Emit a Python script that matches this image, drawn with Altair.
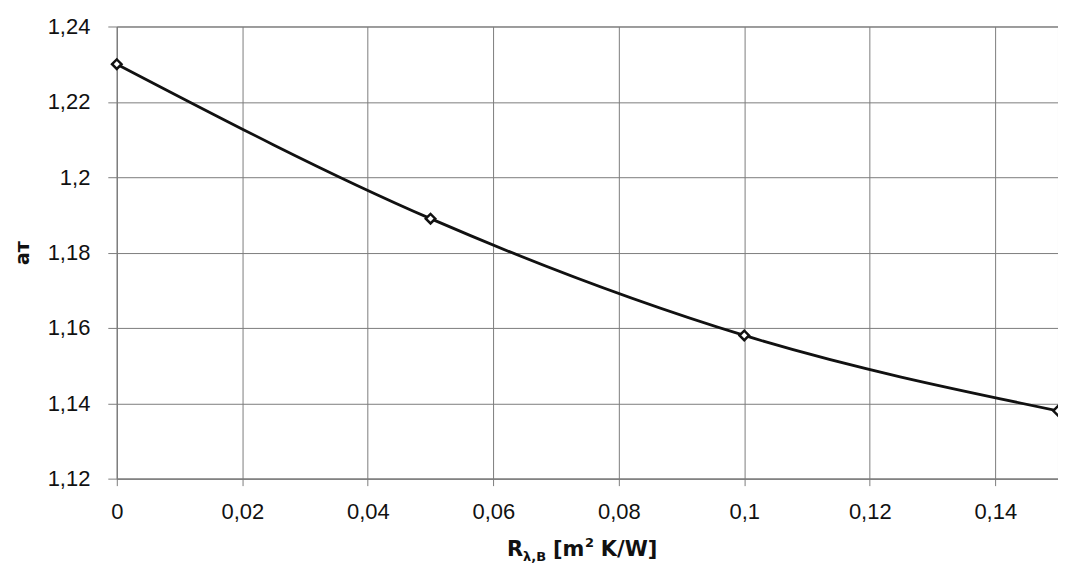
import altair as alt
import pandas as pd

# data
r_vals = [0.0, 0.05, 0.10, 0.15]
a_vals = [1.230, 1.189, 1.158, 1.138]
x_ticks = [0, 0.02, 0.04, 0.06, 0.08, 0.10, 0.12, 0.14]
y_ticks = [1.12, 1.14, 1.16, 1.18, 1.20, 1.22, 1.24]

df = pd.DataFrame({"R": r_vals, "a": a_vals})

FONT = "Liberation Sans"
TFONT = "DejaVu Sans"
GRID = "#7c7c7c"
W, H = 943, 453

x_enc = alt.X(
    "R:Q",
    scale=alt.Scale(domain=[0, 0.15], nice=False, zero=False),
    axis=alt.Axis(
        values=x_ticks, format="~g",
        labelExpr="replace(datum.label, '.', ',')",
        title=None, grid=True, gridColor=GRID, gridWidth=1,
        domainColor=GRID, tickColor=GRID, tickSize=7,
        labelFont=FONT, labelFontSize=22, labelColor="#111",
        labelPadding=16, labelFlush=False,
    ),
)
y_enc = alt.Y(
    "a:Q",
    scale=alt.Scale(domain=[1.12, 1.24], nice=False, zero=False),
    axis=alt.Axis(
        values=y_ticks, format="~g",
        labelExpr="replace(datum.label, '.', ',')",
        title="aт", titleFont=TFONT, titleFontSize=19, titleFontWeight="bold",
        titleColor="#111", titleX=-84,
        grid=True, gridColor=GRID, gridWidth=1,
        domainColor=GRID, tickColor=GRID, tickSize=9,
        labelFont=FONT, labelFontSize=22, labelColor="#111",
        labelPadding=18, labelFlush=False,
    ),
)

base = alt.Chart(df)
line = base.mark_line(color="#111", strokeWidth=2.8, interpolate="monotone").encode(x=x_enc, y=y_enc)
pts = base.mark_point(shape="diamond", filled=True, fill="white", stroke="#111",
                      strokeWidth=2.5, size=90, opacity=1).encode(x="R:Q", y="a:Q")

one = pd.DataFrame({"k": [0]})
def txt(s, x, y, size):
    return alt.Chart(one).mark_text(
        text=s, font=TFONT, fontSize=size, fontWeight="bold", color="#111",
        align="left", baseline="alphabetic",
    ).encode(x=alt.value(x), y=alt.value(y))

ox, oy = 117, 26
title_parts = [
    txt("R", 508 - ox, 557 - oy, 21),
    txt("λ,B", 524 - ox, 562 - oy, 13),
    txt("[m", 554 - ox, 557 - oy, 21),
    txt("2", 586 - ox, 547 - oy, 13),
    txt("K/W]", 602 - ox, 557 - oy, 21),
]

chart = alt.layer(line, pts, *title_parts).properties(
    width=W, height=H,
    autosize=alt.AutoSizeParams(type="none"),
    padding={"left": 109, "top": 18, "right": 0, "bottom": 85},
    background="white",
).configure_view(stroke=GRID, strokeWidth=1)

chart.save("out.html", embed_options={"renderer": "svg", "actions": False})
